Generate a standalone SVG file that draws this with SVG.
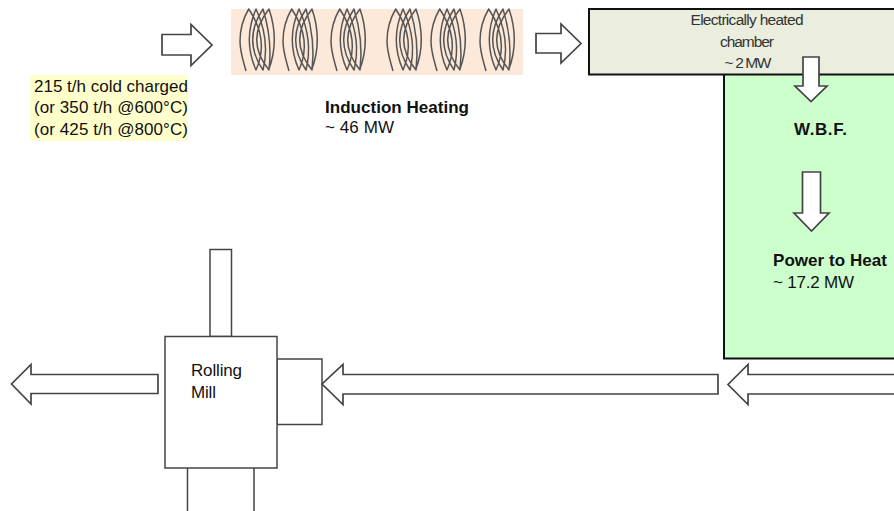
<svg xmlns="http://www.w3.org/2000/svg" xmlns:xlink="http://www.w3.org/1999/xlink" width="894" height="511" viewBox="0 0 894 511">
<style>
text{font-family:"Liberation Sans",Arial,sans-serif;font-size:17px;fill:#111}
.b{font-weight:bold}
.c{text-anchor:middle;fill:#333;font-size:15.5px}
.arrow{fill:#fff;stroke:#444;stroke-width:1.7;stroke-linejoin:miter}
.box{fill:#fff;stroke:#444;stroke-width:1.5}
.heavy{stroke:#111;stroke-width:2}
.coil{fill:none;stroke:#555;stroke-width:1.5;stroke-linejoin:round}
</style>
<defs>
<path id="coilShape" class="coil" d="M246 71C243 60 240 52 240 41C240 29 244 17 248.700 9Q269.600 40 256 70Q242.600 40 256 9Q270.500 40 263 70Q242.400 40 263 9Q272.600 40 269 70Q244.400 40 269 9Q279.600 40 269 69"/>
</defs>
<rect width="894" height="511" fill="#fff"/>
<g id="induction-heater">
<rect x="231" y="9" width="292" height="66" fill="#FDE9D9"/>
<use xlink:href="#coilShape" href="#coilShape"/>
<use xlink:href="#coilShape" href="#coilShape" x="43"/>
<use xlink:href="#coilShape" href="#coilShape" x="91"/>
<use xlink:href="#coilShape" href="#coilShape" x="147"/>
<use xlink:href="#coilShape" href="#coilShape" x="191"/>
<use xlink:href="#coilShape" href="#coilShape" x="240"/>
<text class="b" x="325" y="113" textLength="144">Induction Heating</text>
<text x="325" y="133" textLength="69">~ 46 MW</text>
</g>
<g id="charge-label">
<rect x="30" y="75" width="158" height="66" fill="#FFFFCC"/>
<text x="34" y="92" textLength="154">215 t/h cold charged</text>
<text x="34" y="113" textLength="154">(or 350 t/h @600°C)</text>
<text x="34" y="135" textLength="154">(or 425 t/h @800°C)</text>
</g>
<g id="wbf">
<rect x="724" y="74" width="172" height="284.500" fill="#CCFFCC" class="heavy"/>
<text class="b" x="794" y="135" textLength="53">W.B.F.</text>
<text class="b" x="773" y="266" textLength="114">Power to Heat</text>
<text x="773" y="288" textLength="81">~ 17.2 MW</text>
</g>
<g id="chamber">
<rect x="589" y="9" width="307" height="65.500" fill="#EBEEDE" class="heavy"/>
<text class="c" x="747" y="25" textLength="113">Electrically heated</text>
<text class="c" x="747" y="47" textLength="54">chamber</text>
<text class="c" x="748" y="68" textLength="47">~ 2 MW</text>
</g>
<g id="rolling-mill">
<rect class="box" x="210" y="249.500" width="21.500" height="87"/>
<rect class="box" x="277" y="359" width="45" height="65.500"/>
<path class="box" d="M187.500 468V511M254 468V511"/>
<rect class="box" x="165" y="336.500" width="112" height="131.500"/>
<text x="191" y="376" textLength="51">Rolling</text>
<text x="191" y="398" textLength="25">Mill</text>
</g>
<g id="connectors">
<path class="arrow" d="M162 34.500H191V24.500L212 45L191 65.500V55H162Z"/>
<path class="arrow" d="M536 33.500H561V24L581 43.500L561 63V53H536Z"/>
<path class="arrow" d="M803 57H819V86H827L811 101.500L795 86H803Z"/>
<path class="arrow" d="M802.500 172H820.500V213H829L811.500 231L794 213H802.500Z"/>
<path class="arrow" d="M158 374.500H31V364.500L11.500 384L31 404V393.500H158Z"/>
<path class="arrow" d="M718 374.500H343V364.500L322 384L343 404.500V394H718Z"/>
<path class="arrow" d="M900 374.500H748V364.500L728 384.500L748 404.500V394H900"/>
</g>
</svg>
